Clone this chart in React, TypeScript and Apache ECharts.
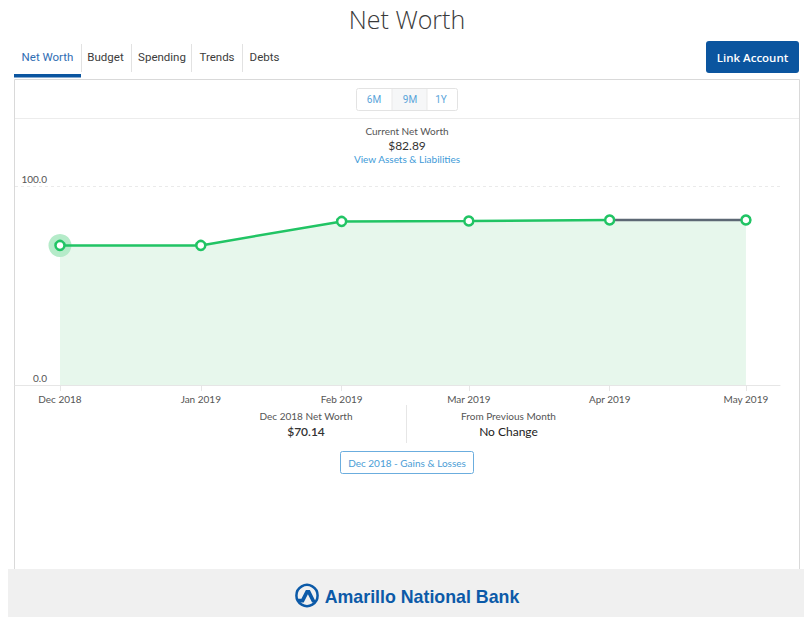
import React, { useEffect, useRef } from "react";
import * as echarts from "echarts";

const months = ["2018-12", "2019-01", "2019-02", "2019-03", "2019-04", "2019-05"];
const netWorth = [70.14, 70.14, 82.2, 82.4, 82.89, 82.89];
const yTicks = [0, 100];
const tabs = ["Net Worth", "Budget", "Spending", "Trends", "Debts"];
const ranges = ["6M", "9M", "1Y"];
const monthNames = ["Jan", "Feb", "Mar", "Apr", "May", "Jun", "Jul", "Aug", "Sep", "Oct", "Nov", "Dec"];

const toTime = (m: string) => {
  const [y, mo] = m.split("-").map(Number);
  return new Date(y, mo - 1, 1).getTime();
};

const GREEN = "#21c464";
const DAY = 86400000;

const logoPath =
  "M-8 6 L-1.6 -6.5 L2.4 -6.5 L8.6 6 L4.6 6 L0.4 -2.2 L-3.8 6 Z M-10 2.2 L-2.2 2.2 L-3.8 5.2 L-10.6 5.2 Z";
echarts.graphic.registerShape("logo", echarts.graphic.extendPath(logoPath, {}) as any);

function txt(text: string, x: number, y: number, fontSize: number, fill: string, opts: any = {}) {
  const align = opts.align || "center";
  return {
    type: "text",
    x,
    y,
    silent: true,
    style: {
      text,
      fill,
      fontSize,
      fontFamily: opts.family || "Lato",
      fontWeight: opts.weight || "normal",
      align,
      textAlign: align,
      verticalAlign: "middle",
      textVerticalAlign: "middle",
    },
    z: 100,
  };
}

export default function App() {
  const ref = useRef<HTMLDivElement>(null);
  useEffect(() => {
    if (!ref.current) return;
    const chart = echarts.init(ref.current, null, { renderer: "svg" });
    const times = months.map(toTime);
    const pts = times.map((t, i) => [t, netWorth[i]]);
    const n = pts.length;
    const xMin = times[0] - 9.9 * DAY;
    const xMax = times[n - 1] + 7.5 * DAY;

    const tabCenters = [47.5, 105.5, 162, 217, 264.5];
    const tabSeps = [81, 131, 191, 242];
    const rangeCenters = [374, 410, 441];

    const graphic: any[] = [
      { type: "rect", shape: { x: 14.5, y: 79.5, width: 785, height: 500 }, style: { fill: "#fff", stroke: "#d9d9d9", lineWidth: 1 }, z: -10, silent: true },
      { type: "line", shape: { x1: 15, y1: 118.5, x2: 799, y2: 118.5 }, style: { stroke: "#ececec", lineWidth: 1 }, z: -9, silent: true },
      { type: "rect", shape: { x: 8, y: 569, width: 796, height: 48 }, style: { fill: "#f0f0f0" }, z: 2, silent: true },
      txt("Net Worth", 407, 19, 25, "#3a3a3a", { family: "Open Sans", weight: 300 }),
      { type: "rect", shape: { x: 14, y: 74, width: 67, height: 3.5 }, style: { fill: "#0b55a0" }, z: 5, silent: true },
      { type: "rect", shape: { x: 706, y: 41, width: 93, height: 32, r: 3 }, style: { fill: "#0b559f" }, z: 5, silent: true },
      txt("Link Account", 752.5, 57, 11.5, "#ffffff", { family: "Open Sans", weight: 600 }),
      { type: "rect", shape: { x: 356.5, y: 88.5, width: 101, height: 22, r: 2 }, style: { fill: "#fff", stroke: "#e3e3e3", lineWidth: 1 }, z: 5, silent: true },
      { type: "rect", shape: { x: 392, y: 89, width: 35, height: 21 }, style: { fill: "#f6f7f8" }, z: 6, silent: true },
      { type: "line", shape: { x1: 392, y1: 89, x2: 392, y2: 110 }, style: { stroke: "#e9e9e9", lineWidth: 1 }, z: 7, silent: true },
      { type: "line", shape: { x1: 427, y1: 89, x2: 427, y2: 110 }, style: { stroke: "#e9e9e9", lineWidth: 1 }, z: 7, silent: true },
      txt("Current Net Worth", 407, 131, 10, "#555"),
      txt("$82.89", 407, 145, 12, "#333"),
      txt("View Assets & Liabilities", 407, 159, 10, "#3d9ad8"),
      { type: "line", shape: { x1: 406.5, y1: 405, x2: 406.5, y2: 443 }, style: { stroke: "#e6e6e6", lineWidth: 1 }, z: 7, silent: true },
      txt("Dec 2018 Net Worth", 306, 416, 10, "#555"),
      txt("$70.14", 306, 431, 12, "#333", { weight: 600 }),
      txt("From Previous Month", 508.5, 416, 10, "#555"),
      txt("No Change", 508.5, 431, 12, "#222"),
      { type: "rect", shape: { x: 340.5, y: 451.5, width: 133, height: 22, r: 2 }, style: { fill: "#fff", stroke: "#6badde", lineWidth: 1 }, z: 5, silent: true },
      txt("Dec 2018 - Gains & Losses", 407, 462.5, 10, "#4a9dd6"),
      { type: "circle", shape: { cx: 307, cy: 595.5, r: 10.6 }, style: { fill: "none", stroke: "#0c5aa8", lineWidth: 2.5 }, z: 10, silent: true },
      { type: "logo", x: 307.5, y: 596.5, style: { fill: "#0c5aa8" }, z: 10, silent: true },
      txt("Amarillo National Bank", 422, 596.5, 17.8, "#0c5aa8", { family: "Liberation Sans", weight: "bold" }),
    ];
    tabs.forEach((t, i) => {
      graphic.push(txt(t, tabCenters[i], 57, 11.5, i === 0 ? "#2f6db3" : "#3c3c3c", { family: "Roboto" }));
    });
    tabSeps.forEach((x) => {
      graphic.push({ type: "line", shape: { x1: x + 0.5, y1: 44, x2: x + 0.5, y2: 72 }, style: { stroke: "#e2e2e2", lineWidth: 1 }, z: 5, silent: true });
    });
    ranges.forEach((r, i) => {
      graphic.push(txt(r, rangeCenters[i], 99.5, 10, "#5aa5da", { family: "Roboto" }));
    });

    const fmt = (v: number) => {
      const d = new Date(v);
      return monthNames[d.getMonth()] + " " + d.getFullYear();
    };

    chart.setOption({
      animation: false,
      graphic,
      grid: { left: 15, right: 24, top: 186, bottom: 232, containLabel: false },
      xAxis: {
        type: "value",
        min: xMin,
        max: xMax,
        axisLine: { show: true, lineStyle: { color: "#e6e6e6", width: 1 } },
        axisTick: { show: true, customValues: times, length: 6, lineStyle: { color: "#e6e6e6" } },
        axisLabel: {
          customValues: times,
          formatter: fmt,
          color: "#555",
          fontSize: 10,
          fontFamily: "Lato",
          margin: 9,
        },
        splitLine: { show: false },
      },
      yAxis: {
        type: "value",
        min: yTicks[0],
        max: yTicks[yTicks.length - 1],
        interval: 100,
        axisLine: { show: false },
        axisTick: { show: false },
        axisLabel: {
          inside: true,
          align: "right",
          margin: 32,
          verticalAlign: "bottom",
          lineHeight: 14,
          color: "#555",
          fontSize: 10,
          fontFamily: "Lato",
          formatter: (v: number) => v.toFixed(1),
        },
        splitLine: { show: true, lineStyle: { color: "#eaeaea", type: [3, 3] } },
      },
      series: [
        {
          type: "line",
          z: 1,
          data: pts,
          showSymbol: false,
          lineStyle: { width: 0 },
          areaStyle: { color: "#e7f7ec", opacity: 1 },
          silent: true,
        },
        {
          type: "scatter",
          z: 2,
          data: [pts[0]],
          symbolSize: 23,
          itemStyle: { color: "#b5ebc9", opacity: 1 },
          silent: true,
        },
        {
          type: "line",
          z: 3,
          data: pts.slice(0, n - 1),
          showSymbol: false,
          lineStyle: { color: GREEN, width: 2.5 },
          silent: true,
        },
        {
          type: "line",
          z: 3,
          data: pts.slice(n - 2),
          showSymbol: false,
          lineStyle: { color: "#5d6874", width: 2.5 },
          silent: true,
        },
        {
          type: "scatter",
          z: 6,
          data: pts,
          symbol: "circle",
          symbolSize: 9,
          clip: false,
          itemStyle: { color: "#ffffff", borderColor: GREEN, borderWidth: 2.5, opacity: 1 },
          silent: true,
        },
      ],
    });
    return () => chart.dispose();
  }, []);
  return <div ref={ref} style={{ position: "absolute", left: 0, top: 0, width: 804, height: 617 }} />;
}
